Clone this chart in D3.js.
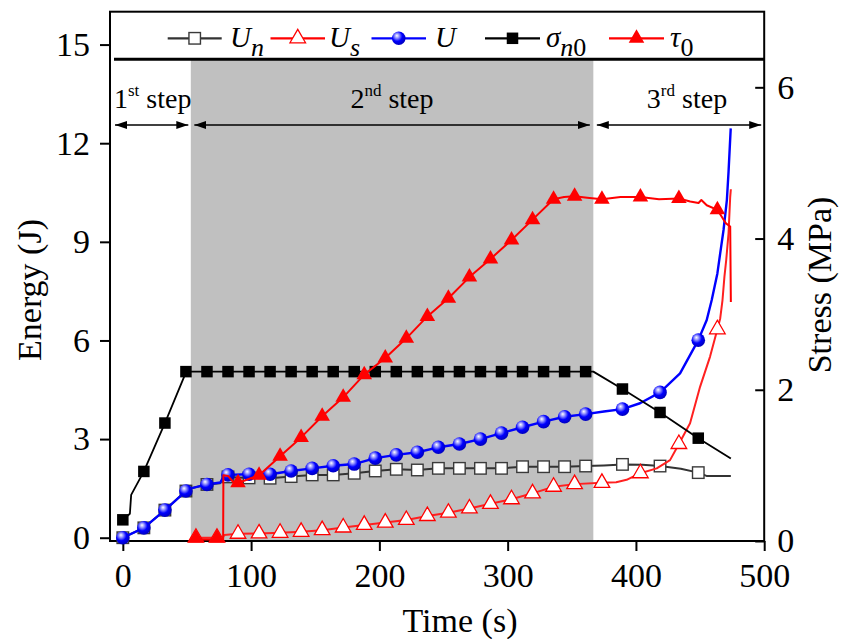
<!DOCTYPE html>
<html>
<head>
<meta charset="utf-8">
<script src="https://cdn.jsdelivr.net/npm/d3@7/dist/d3.min.js"></script>
<style>
  html, body { margin: 0; padding: 0; background: #fff; }
  svg { display: block; }
  text { font-family: "Liberation Serif", "Times New Roman", Times, serif; }
</style>
</head>
<body>
<svg id="chart" width="842" height="639"></svg>
<script>
// ---------------- DATA ----------------
// marker times for squares / circles (s)
const markT1 = [0,16.4,32.8,49.2,65.6,82,98.4,114.8,131.2,147.6,164,180.4,196.8,213.2,229.6,246,262.4,278.8,295.2,311.6,328,344.4,360.8,389.5,418.8,448.6];
// marker times for triangles (s)
const markT2 = [57,73.4,89.8,106.2,122.6,139,155.4,171.8,188.2,204.6,221,237.4,253.8,270.2,286.6,303,319.4,335.8,352.2,373.5,403.5,433.5,463.5];

// Energy (J) marker values
const unMarks = [0,0.30,0.84,1.42,1.62,1.85,1.82,1.81,1.86,1.91,1.91,1.96,2.03,2.08,2.06,2.11,2.11,2.11,2.11,2.16,2.16,2.16,2.18,2.23,2.18,1.98];
const uMarks  = [0,0.30,0.84,1.42,1.62,1.91,1.93,1.93,2.03,2.11,2.19,2.24,2.42,2.52,2.60,2.75,2.85,3.00,3.18,3.36,3.53,3.68,3.76,3.91,4.42,6.01];
const usMarks = [0,0,0.12,0.13,0.15,0.18,0.23,0.31,0.39,0.46,0.54,0.66,0.76,0.89,1.03,1.17,1.35,1.55,1.63,1.67,1.96,2.85,6.34];
// Stress (MPa) marker values
const sigMarks = [0.28,0.92,1.56,2.24,2.24,2.24,2.24,2.24,2.24,2.24,2.24,2.24,2.24,2.24,2.24,2.24,2.24,2.24,2.24,2.24,2.24,2.24,2.24,2.01,1.70,1.36];
const tauMarks = [0.04,0.04,0.77,0.87,1.12,1.37,1.65,1.90,2.20,2.42,2.68,2.97,3.21,3.49,3.73,3.98,4.25,4.52,4.56,4.52,4.55,4.53,4.38];

// line traces [time, value]
const unLine = [[0,0],[16.4,0.30],[32.8,0.84],[49.2,1.42],[53,1.50],[65.6,1.62],[76,1.66],[78.5,1.84],[82,1.85],[98.4,1.82],[114.8,1.81],[131.2,1.86],[147.6,1.91],[164,1.91],[180.4,1.96],[196.8,2.03],[213.2,2.08],[229.6,2.06],[246,2.11],[262.4,2.11],[278.8,2.11],[295.2,2.11],[311.6,2.16],[328,2.16],[344.4,2.16],[360.8,2.18],[375,2.20],[389.5,2.23],[405,2.22],[418.8,2.18],[435,2.10],[448.6,1.98],[455,1.88],[474,1.88]];
const usLine = [[53,0],[78,0],[79,0.08],[89.8,0.12],[106.2,0.13],[122.6,0.15],[139,0.18],[155.4,0.23],[171.8,0.31],[188.2,0.39],[204.6,0.46],[221,0.54],[237.4,0.66],[253.8,0.76],[270.2,0.89],[286.6,1.03],[303,1.17],[319.4,1.35],[335.8,1.55],[352.2,1.63],[373.5,1.67],[384.6,1.69],[392.7,1.76],[397.9,1.86],[403.5,1.96],[416.2,2.11],[426.6,2.36],[433.5,2.85],[442.2,3.48],[450,4.59],[457.8,5.51],[463.5,6.34],[465.7,6.67],[467.5,7.23],[469,7.94],[470.4,8.45],[472.2,9.26],[473.5,10.37],[474,10.6]];
const uLine = [[0,0],[16.4,0.30],[32.8,0.84],[49.2,1.42],[53,1.50],[65.6,1.62],[76,1.68],[78.5,1.86],[82,1.91],[98.4,1.93],[114.8,1.93],[131.2,2.03],[147.6,2.11],[164,2.19],[180.4,2.24],[196.8,2.42],[213.2,2.52],[229.6,2.60],[246,2.75],[262.4,2.85],[278.8,3.00],[295.2,3.18],[311.6,3.36],[328,3.53],[344.4,3.68],[360.8,3.76],[375,3.84],[389.5,3.91],[403.2,4.09],[418.8,4.42],[434.4,5.00],[448.6,6.01],[455.2,6.62],[459.1,7.23],[463.5,8.04],[465.7,8.65],[468.3,9.36],[470.9,10.27],[472.2,11.13],[473.9,12.45]];
const sigLine = [[0,0.28],[5.5,0.36],[6.5,0.61],[16.4,0.92],[32.8,1.56],[49.2,2.23],[53,2.24],[366.8,2.24],[389.5,2.01],[418.8,1.70],[448.6,1.36],[474,1.09]];
const tauLine = [[53,0.02],[78.2,0.02],[78.4,0.87],[82,0.86],[86,0.78],[89.8,0.77],[95,0.80],[106.2,0.87],[122.6,1.12],[139,1.37],[155.4,1.65],[171.8,1.90],[188.2,2.20],[204.6,2.42],[221,2.68],[237.4,2.97],[253.8,3.21],[270.2,3.49],[286.6,3.73],[303,3.98],[319.4,4.25],[335.8,4.52],[344,4.55],[352.2,4.56],[362,4.54],[373.5,4.52],[388,4.55],[403.5,4.55],[418,4.52],[433.5,4.53],[442.3,4.49],[448.8,4.47],[451,4.51],[455.2,4.44],[463.5,4.38],[470.2,4.20],[473.5,4.16],[474,3.16]];

// axes ticks
const xTicks = [0,100,200,300,400,500];
const yLeftTicks = [0,3,6,9,12,15];
const yRightTicks = [0,2,4,6];

// stages
const stageBounds = [0, 53, 366.8, 500];
const stageNames = [["1","st"," step"],["2","nd"," step"],["3","rd"," step"]];

// legend
const legendItems = [
  {main:"U", sub:"n", type:"openSquare"},
  {main:"U", sub:"s", type:"openTriangle"},
  {main:"U", sub:"",  type:"ball"},
  {main:"\u03C3", sub:"n", sub2:"0", type:"square"},
  {main:"\u03C4", sub:"", sub2:"0", type:"triangle"}
];

// ---------------- DRAWING ----------------
const svg = d3.select("#chart");
const L = 110, R = 764.2, T = 11.7, B = 541;
const x = d3.scaleLinear().domain([-10, 500]).range([L, R]);
const yE = d3.scaleLinear().domain([-0.1, 16]).range([B, T]);
const yS = d3.scaleLinear().domain([0, 7]).range([B, T]);

const defs = svg.append("defs");
const grad = defs.append("radialGradient").attr("id","ballGrad")
  .attr("cx","40%").attr("cy","38%").attr("r","62%").attr("fx","36%").attr("fy","30%");
grad.append("stop").attr("offset","0%").attr("stop-color","#ffffff");
grad.append("stop").attr("offset","25%").attr("stop-color","#9a9aff");
grad.append("stop").attr("offset","60%").attr("stop-color","#0000ff");
grad.append("stop").attr("offset","100%").attr("stop-color","#0000c0");

defs.append("marker").attr("id","ah").attr("viewBox","0 0 12 8").attr("refX",12).attr("refY",4)
  .attr("markerWidth",12).attr("markerHeight",8).attr("markerUnits","userSpaceOnUse").attr("orient","auto-start-reverse")
  .append("path").attr("d","M0,0 L12,4 L0,8 Z").attr("fill","#000");

// gray stage 2 band
const legendBottom = 59.3;
svg.append("rect")
  .attr("x", x(stageBounds[1])).attr("y", legendBottom)
  .attr("width", x(stageBounds[2]) - x(stageBounds[1]))
  .attr("height", B - legendBottom)
  .attr("fill", "#c0c0c0");

// axes
const fontSize = 34;
const ff = '"Liberation Serif", "Times New Roman", Times, serif';
const gx = svg.append("g").attr("transform", `translate(0,${B})`)
  .call(d3.axisBottom(x).tickValues(xTicks).tickSize(10).tickPadding(12).tickFormat(d3.format("d")));
const gyl = svg.append("g").attr("transform", `translate(${L},0)`)
  .call(d3.axisLeft(yE).tickValues(yLeftTicks).tickSize(10).tickPadding(10).tickFormat(d3.format("d")));
const gyr = svg.append("g").attr("transform", `translate(${R},0)`)
  .call(d3.axisRight(yS).tickValues(yRightTicks).tickSizeInner(-9).tickSizeOuter(0).tickPadding(13).tickFormat(d3.format("d")));
[gx, gyl, gyr].forEach(g => {
  g.attr("font-family", null).attr("font-size", null);
  g.select(".domain").remove();
  g.selectAll(".tick line").attr("stroke","#000").attr("stroke-width",2);
  g.selectAll(".tick text").attr("fill","#000").style("font-size", fontSize + "px").style("font-family", ff);
});

// frame
svg.append("rect").attr("x", L).attr("y", T).attr("width", R - L).attr("height", B - T)
  .attr("fill", "none").attr("stroke", "#000").attr("stroke-width", 2);
// legend separator line
svg.append("line").attr("x1", L + 4).attr("x2", R).attr("y1", legendBottom).attr("y2", legendBottom)
  .attr("stroke", "#000").attr("stroke-width", 3);

// axis titles
svg.append("text").attr("x", 460).attr("y", 632).attr("text-anchor", "middle")
  .style("font-size", fontSize + "px").text("Time (s)");
svg.append("text").attr("transform", `translate(41,290) rotate(-90)`).attr("text-anchor", "middle")
  .style("font-size", fontSize + "px").text("Energy (J)");
svg.append("text").attr("transform", `translate(831,285) rotate(-90)`).attr("text-anchor", "middle")
  .style("font-size", fontSize + "px").text("Stress (MPa)");

// stage arrows + labels
const arrowY = 125;
const stageGaps = [[3, -2.5], [3.5, -3.5], [3.5, -3]];
for (let i = 0; i < 3; i++) {
  const x1 = x(stageBounds[i]) + (i === 0 ? (L + 5 - x(stageBounds[0])) : stageGaps[i][0]);
  const x2 = (i === 2 ? R - 3 : x(stageBounds[i + 1]) + stageGaps[i][1]);
  svg.append("line").attr("x1", x1).attr("x2", x2).attr("y1", arrowY).attr("y2", arrowY)
    .attr("stroke", "#000").attr("stroke-width", 1.6)
    .attr("marker-start", "url(#ah)").attr("marker-end", "url(#ah)");
}
const stageLabelX = [114, 392, 687];
stageNames.forEach((s, i) => {
  const t = svg.append("text").attr("x", stageLabelX[i]).attr("y", 108)
    .attr("text-anchor", i === 0 ? "start" : "middle").style("font-size", "28px");
  t.append("tspan").text(s[0]);
  t.append("tspan").attr("dy", -12).style("font-size", "17px").text(s[1]);
  t.append("tspan").attr("dy", 12).text(s[2]);
});

// series
const lineE = d3.line().x(d => x(d[0])).y(d => yE(d[1]));
const lineS = d3.line().x(d => x(d[0])).y(d => yS(d[1]));
const sq = 11.5, triSize = 105, ballR = 6.8;
const triPath = d3.symbol().type(d3.symbolTriangle).size(triSize)();

function drawMarker(g, type, cx, cy) {
  if (type === "openSquare") {
    g.append("rect").attr("x", cx - sq/2).attr("y", cy - sq/2).attr("width", sq).attr("height", sq)
      .attr("fill", "#fff").attr("stroke", "#3a3a3a").attr("stroke-width", 1.4);
  } else if (type === "square") {
    g.append("rect").attr("x", cx - sq/2).attr("y", cy - sq/2).attr("width", sq).attr("height", sq)
      .attr("fill", "#000");
  } else if (type === "openTriangle") {
    g.append("path").attr("d", triPath).attr("transform", `translate(${cx},${cy})`)
      .attr("fill", "#fff").attr("stroke", "#ff0000").attr("stroke-width", 1.3);
  } else if (type === "triangle") {
    g.append("path").attr("d", triPath).attr("transform", `translate(${cx},${cy})`)
      .attr("fill", "#ff0000");
  } else if (type === "ball") {
    g.append("circle").attr("cx", cx).attr("cy", cy).attr("r", ballR).attr("fill", "url(#ballGrad)");
  }
}

const series = [
  {line: unLine, scale: yE, t: markT1, v: unMarks, color: "#333333", w: 2, type: "openSquare"},
  {line: usLine, scale: yE, t: markT2, v: usMarks, color: "#ff2020", w: 2, type: "openTriangle"},
  {line: uLine, scale: yE, t: markT1, v: uMarks, color: "#0000ff", w: 2.4, type: "ball"},
  {line: sigLine, scale: yS, t: markT1, v: sigMarks, color: "#000000", w: 1.8, type: "square"},
  {line: tauLine, scale: yS, t: markT2, v: tauMarks, color: "#ff0000", w: 2, type: "triangle"}
];
series.forEach(s => {
  const g = svg.append("g");
  g.append("path").attr("d", (s.scale === yE ? lineE : lineS)(s.line))
    .attr("fill", "none").attr("stroke", s.color).attr("stroke-width", s.w).attr("stroke-linejoin", "round");
  s.t.forEach((t, i) => drawMarker(g, s.type, x(t), s.scale(s.v[i])));
});

// legend
const legX = [[167.7, 221.7, 230], [270.5, 325, 329], [371.5, 426, 435], [485, 540, 546], [609, 664, 670]];
const legY = 38.3;
const colors = ["#333333", "#ff0000", "#0000ff", "#000000", "#ff0000"];
legendItems.forEach((it, i) => {
  const g = svg.append("g");
  g.append("line").attr("x1", legX[i][0]).attr("x2", legX[i][1]).attr("y1", legY).attr("y2", legY)
    .attr("stroke", colors[i]).attr("stroke-width", 2.2);
  drawMarker(g, it.type, (legX[i][0] + legX[i][1]) / 2, legY);
  const t = g.append("text").attr("x", legX[i][2]).attr("y", 47).style("font-size", "29px");
  t.append("tspan").style("font-style", "italic").text(it.main);
  let shifted = false;
  if (it.sub) { t.append("tspan").attr("dy", 9).style("font-style", "italic").style("font-size", "26px").text(it.sub); shifted = true; }
  if (it.sub2) { t.append("tspan").attr("dy", shifted ? 0 : 9).style("font-size", "26px").text(it.sub2); }
});
</script>
</body>
</html>
